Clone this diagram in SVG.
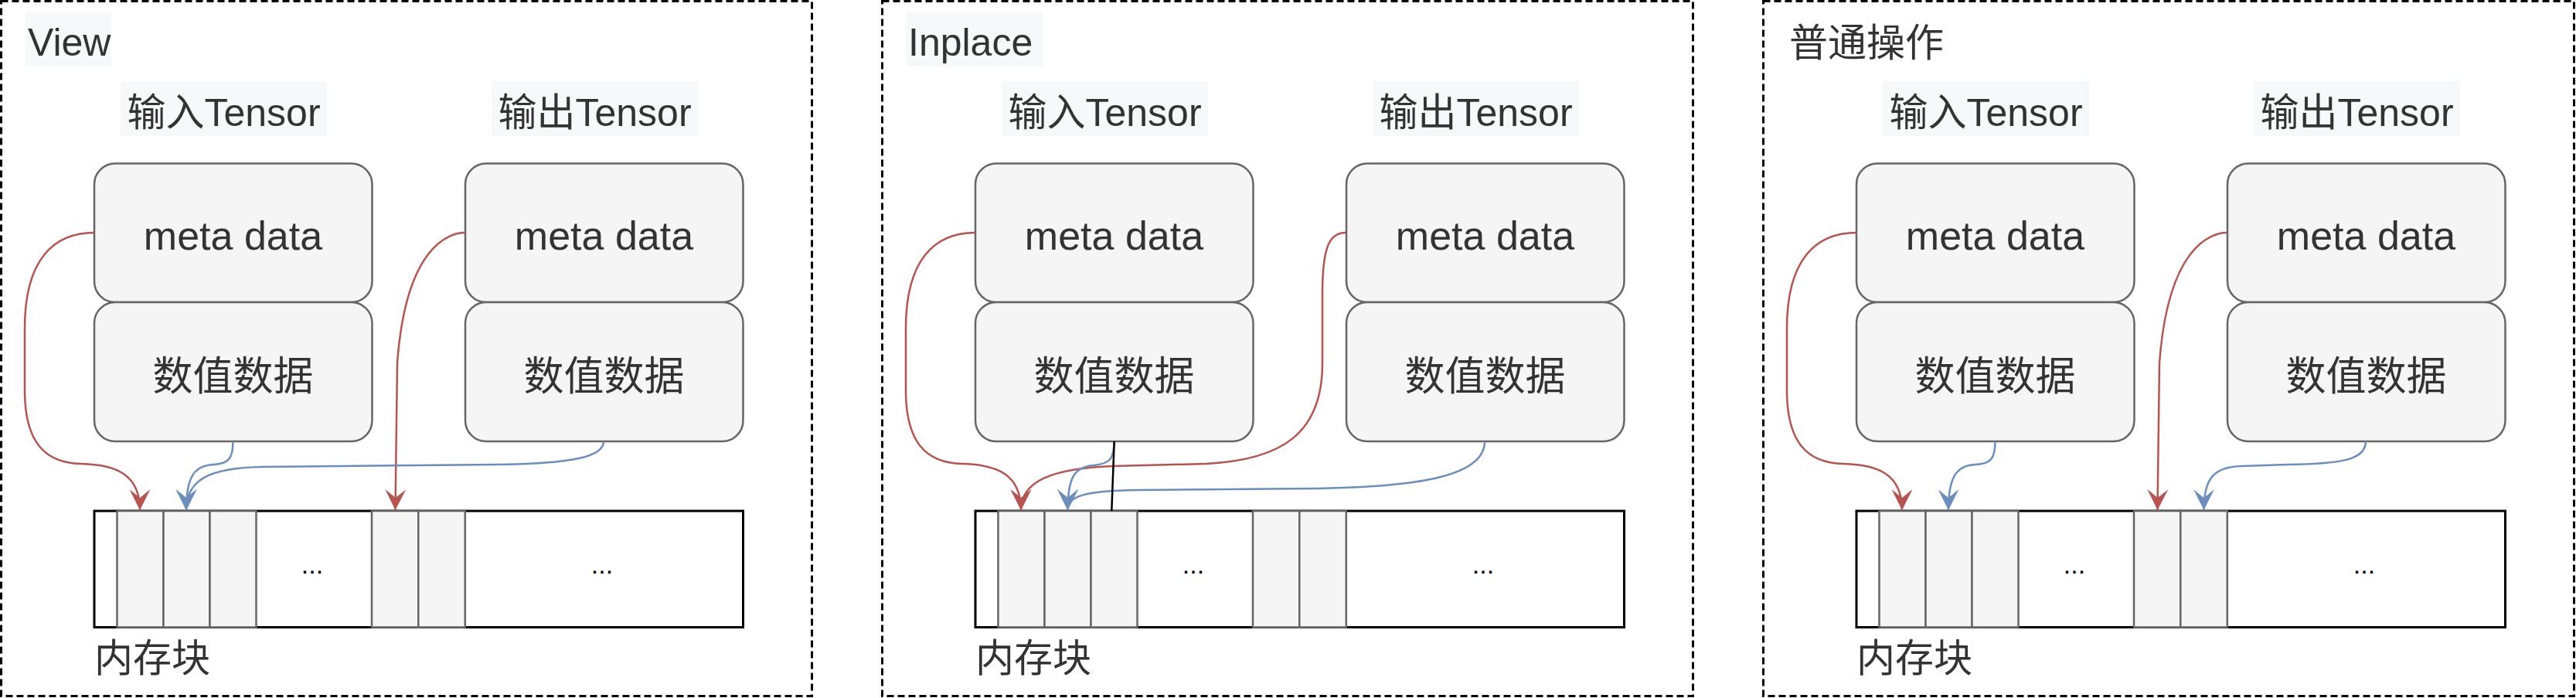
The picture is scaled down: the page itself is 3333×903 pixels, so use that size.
<svg xmlns="http://www.w3.org/2000/svg" width="3333" height="903" viewBox="0 0 3333 903">
<defs>
<style>
.frame{fill:none;stroke:#000;stroke-width:3;stroke-dasharray:9 5}
.tbg{fill:#f7f8fa}
.t{font-family:"Liberation Sans","Noto Sans CJK SC",sans-serif;font-size:50px;fill:#333}
.bt{font-size:52px;text-anchor:middle}
.box{fill:#f5f5f5;stroke:#666;stroke-width:2.5}
.mem{fill:#fff;stroke:#000;stroke-width:3}
.cell{fill:#f5f5f5;stroke:#666;stroke-width:2.5}
.dots{font-family:"Liberation Sans",sans-serif;font-size:34px;fill:#000;text-anchor:middle}
.r{fill:none;stroke:#b85450;stroke-width:2.5;marker-end:url(#ar)}
.b{fill:none;stroke:#6c8ebf;stroke-width:2.5;marker-end:url(#ab)}
.k{fill:none;stroke:#000;stroke-width:2.5}
.mid{text-anchor:middle}
</style>
<marker id="ar" markerUnits="userSpaceOnUse" markerWidth="27" markerHeight="27" viewBox="0 0 27 27" refX="27" refY="13.5" orient="auto"><path d="M27,13.5 L0,0 L11,13.5 L0,27 Z" fill="#b85450"/></marker>
<marker id="ab" markerUnits="userSpaceOnUse" markerWidth="27" markerHeight="27" viewBox="0 0 27 27" refX="27" refY="13.5" orient="auto"><path d="M27,13.5 L0,0 L11,13.5 L0,27 Z" fill="#6c8ebf"/></marker>
</defs>
<rect width="3333" height="903" fill="#fff"/>

<!-- Panel 1: View -->
<g id="panel-view">
  <rect class="frame" x="1.5" y="1.5" width="1049" height="899"/>
  <g id="view-title"><rect class="tbg" x="33" y="15" width="111" height="71"/><text class="t" x="36" y="72">View</text></g>
  <g id="view-input-label"><rect class="tbg" x="156" y="105" width="267" height="71"/><text class="t mid" x="289.5" y="162.5">输入Tensor</text></g>
  <g id="view-output-label"><rect class="tbg" x="636" y="105" width="267" height="71"/><text class="t mid" x="769.5" y="162.5">输出Tensor</text></g>
  <g id="view-input-meta"><rect class="box" x="122" y="211.5" width="359.5" height="179.5" rx="27"/><text class="t bt" x="301.5" y="323">meta data</text></g>
  <g id="view-input-data"><rect class="box" x="122" y="391" width="359.5" height="180" rx="27"/><text class="t bt" x="301.5" y="505">数值数据</text></g>
  <g id="view-output-meta"><rect class="box" x="602" y="211.5" width="359.5" height="179.5" rx="27"/><text class="t bt" x="781.5" y="323">meta data</text></g>
  <g id="view-output-data"><rect class="box" x="602" y="391" width="359.5" height="180" rx="27"/><text class="t bt" x="781.5" y="505">数值数据</text></g>
  <g id="view-memory">
    <rect class="mem" x="122" y="661" width="839.5" height="150.5"/>
    <rect class="cell" x="151.5" y="661" width="60" height="150.5"/>
    <rect class="cell" x="211.5" y="661" width="60" height="150.5"/>
    <rect class="cell" x="271.5" y="661" width="60" height="150.5"/>
    <rect class="cell" x="481" y="661" width="60.3" height="150.5"/>
    <rect class="cell" x="541.3" y="661" width="60.5" height="150.5"/>
    <text class="dots" x="404" y="742">...</text>
    <text class="dots" x="779" y="742">...</text>
  </g>
  <g id="view-memory-label"><text class="t" x="122" y="869">内存块</text></g>
  <g id="view-connectors">
    <path class="r" d="M122,301 C70,301 32,335 32,425 L32,505 C32,572 58,599 105,600 C152,601 181,615 181,660"/>
    <path class="r" d="M601.5,301 C580,301 525,320 514,470 L511.5,660"/>
    <path class="b" d="M301.5,571 C301.5,593 296,600 276,601 C252,602 241,616 241,660"/>
    <path class="b" d="M781,571 C781,590 745,600 640,601 L340,604 C272,605 241,620 241,660"/>
  </g>
</g>

<!-- Panel 2: Inplace -->
<g id="panel-inplace" transform="translate(1140,0)">
  <rect class="frame" x="1.5" y="1.5" width="1049" height="899"/>
  <g id="inplace-title"><rect class="tbg" x="32.6" y="15" width="177" height="71"/><text class="t" x="35" y="72">Inplace</text></g>
  <g id="inplace-input-label"><rect class="tbg" x="156" y="105" width="267" height="71"/><text class="t mid" x="289.5" y="162.5">输入Tensor</text></g>
  <g id="inplace-output-label"><rect class="tbg" x="636" y="105" width="267" height="71"/><text class="t mid" x="769.5" y="162.5">输出Tensor</text></g>
  <g id="inplace-input-meta"><rect class="box" x="122" y="211.5" width="359.5" height="179.5" rx="27"/><text class="t bt" x="301.5" y="323">meta data</text></g>
  <g id="inplace-input-data"><rect class="box" x="122" y="391" width="359.5" height="180" rx="27"/><text class="t bt" x="301.5" y="505">数值数据</text></g>
  <g id="inplace-output-meta"><rect class="box" x="602" y="211.5" width="359.5" height="179.5" rx="27"/><text class="t bt" x="781.5" y="323">meta data</text></g>
  <g id="inplace-output-data"><rect class="box" x="602" y="391" width="359.5" height="180" rx="27"/><text class="t bt" x="781.5" y="505">数值数据</text></g>
  <g id="inplace-memory">
    <rect class="mem" x="122" y="661" width="839.5" height="150.5"/>
    <rect class="cell" x="151.5" y="661" width="60" height="150.5"/>
    <rect class="cell" x="211.5" y="661" width="60" height="150.5"/>
    <rect class="cell" x="271.5" y="661" width="60" height="150.5"/>
    <rect class="cell" x="481" y="661" width="60.3" height="150.5"/>
    <rect class="cell" x="541.3" y="661" width="60.5" height="150.5"/>
    <text class="dots" x="404" y="742">...</text>
    <text class="dots" x="779" y="742">...</text>
  </g>
  <g id="inplace-memory-label"><text class="t" x="122" y="869">内存块</text></g>
  <g id="inplace-connectors">
    <path class="r" d="M122,301 C70,301 32,335 32,425 L32,505 C32,572 58,599 105,600 C152,601 181,615 181,660"/>
    <path class="r" d="M601,301 C580,301 571,320 571,380 L571,470 C571,560 520,595 420,600 L300,603 C222,606 181,622 181,660"/>
    <path class="b" d="M301.5,571 C301.5,595 295,600 275,602 C251,604 241.5,616 241.5,660"/>
    <path class="b" d="M781,571 C781,615 700,630 560,632 L330,634 C262,635 241.5,642 241.5,660"/>
    <path class="k" d="M301.7,571 L298.3,661"/>
  </g>
</g>

<!-- Panel 3: 普通操作 -->
<g id="panel-normal" transform="translate(2280,0)">
  <rect class="frame" x="1.5" y="1.5" width="1049" height="899"/>
  <g id="normal-title"><text class="t" x="35" y="72.5">普通操作</text></g>
  <g id="normal-input-label"><rect class="tbg" x="156" y="105" width="267" height="71"/><text class="t mid" x="289.5" y="162.5">输入Tensor</text></g>
  <g id="normal-output-label"><rect class="tbg" x="636" y="105" width="267" height="71"/><text class="t mid" x="769.5" y="162.5">输出Tensor</text></g>
  <g id="normal-input-meta"><rect class="box" x="122" y="211.5" width="359.5" height="179.5" rx="27"/><text class="t bt" x="301.5" y="323">meta data</text></g>
  <g id="normal-input-data"><rect class="box" x="122" y="391" width="359.5" height="180" rx="27"/><text class="t bt" x="301.5" y="505">数值数据</text></g>
  <g id="normal-output-meta"><rect class="box" x="602" y="211.5" width="359.5" height="179.5" rx="27"/><text class="t bt" x="781.5" y="323">meta data</text></g>
  <g id="normal-output-data"><rect class="box" x="602" y="391" width="359.5" height="180" rx="27"/><text class="t bt" x="781.5" y="505">数值数据</text></g>
  <g id="normal-memory">
    <rect class="mem" x="122" y="661" width="839.5" height="150.5"/>
    <rect class="cell" x="151.5" y="661" width="60" height="150.5"/>
    <rect class="cell" x="211.5" y="661" width="60" height="150.5"/>
    <rect class="cell" x="271.5" y="661" width="60" height="150.5"/>
    <rect class="cell" x="481" y="661" width="60.3" height="150.5"/>
    <rect class="cell" x="541.3" y="661" width="60.5" height="150.5"/>
    <text class="dots" x="404" y="742">...</text>
    <text class="dots" x="779" y="742">...</text>
  </g>
  <g id="normal-memory-label"><text class="t" x="122" y="869">内存块</text></g>
  <g id="normal-connectors">
    <path class="r" d="M122,301 C70,301 32,335 32,425 L32,505 C32,572 58,599 105,600 C152,601 181,615 181,660"/>
    <path class="r" d="M601.5,301 C580,301 525,320 514,470 L511.5,660"/>
    <path class="b" d="M301.5,571 C301.5,593 296,600 276,601 C252,602 241,616 241,660"/>
    <path class="b" d="M781,571 C781,595 750,600 680,601 L620,603 C585,604 571.5,618 571.5,660"/>
  </g>
</g>
</svg>
